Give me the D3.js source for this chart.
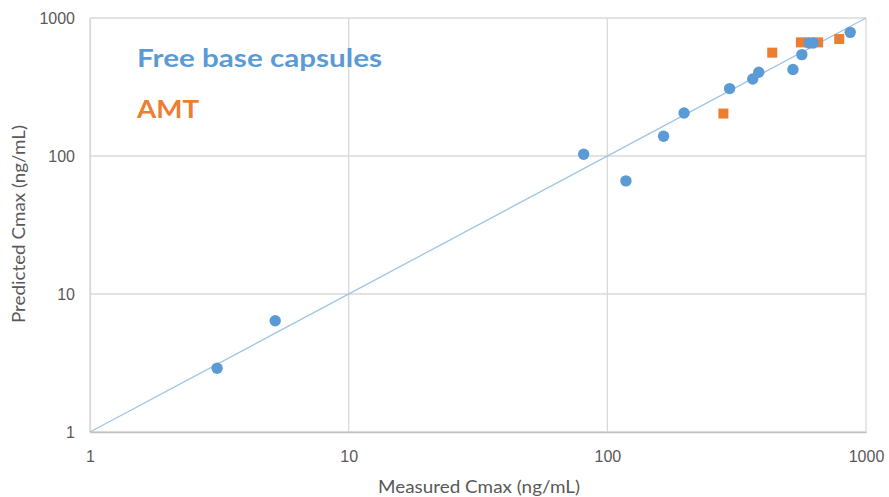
<!DOCTYPE html>
<html>
<head>
<meta charset="utf-8">
<script src="https://cdn.jsdelivr.net/npm/d3@7"></script>
<style>
  html, body { margin: 0; padding: 0; background: #fff; }
  svg { display: block; font-family: Lato, "Open Sans", sans-serif; }
</style>
</head>
<body>
<svg id="chart" width="889" height="497"></svg>
<script>
// Measured vs predicted Cmax (ng/mL)
const freeBaseMeasured  = [3.1, 5.2, 81, 118, 165, 198, 297, 365, 385, 522, 565, 603, 625, 869];
const freeBasePredicted = [2.9, 6.4, 103, 66, 139, 205, 308, 361, 404, 423, 543, 658, 658, 787];
const amtMeasured  = [281, 434, 560, 605, 653, 788];
const amtPredicted = [203, 561, 666, 666, 666, 704];
const tickValues = [1, 10, 100, 1000];
const tickLabels = ["1", "10", "100", "1000"];
const identityLine = [1, 1000];

const svg = d3.select("#chart");
const margin = { left: 90, right: 23, top: 18, bottom: 65 };
const W = 889, H = 497;

const x = d3.scaleLog().domain([1, 1000]).range([margin.left, W - margin.right]);
const y = d3.scaleLog().domain([1, 1000]).range([H - margin.bottom, margin.top]);

const gridColor = "#D9D9D9";
const textColor = "#595959";

// gridlines
svg.append("g").selectAll("line.vg")
  .data(tickValues).join("line")
  .attr("x1", d => x(d)).attr("x2", d => x(d))
  .attr("y1", y(1000)).attr("y2", y(1))
  .attr("stroke", gridColor).attr("stroke-width", 1.3);
svg.append("g").selectAll("line.hg")
  .data(tickValues).join("line")
  .attr("x1", x(1)).attr("x2", x(1000))
  .attr("y1", d => y(d)).attr("y2", d => y(d))
  .attr("stroke", gridColor).attr("stroke-width", 1.3);

// x axis
const xAxis = d3.axisBottom(x).tickValues(tickValues)
  .tickFormat((d, i) => tickLabels[i]).tickSize(0).tickPadding(19);
const gx = svg.append("g").attr("transform", `translate(0,${y(1)})`).call(xAxis);
gx.select(".domain").attr("stroke", "#BFBFBF").attr("stroke-width", 1.3);
gx.selectAll("text").attr("fill", textColor).attr("font-size", 16);

// y axis
const yAxis = d3.axisLeft(y).tickValues(tickValues)
  .tickFormat((d, i) => tickLabels[i]).tickSize(0).tickPadding(15);
const gy = svg.append("g").attr("transform", `translate(${x(1)},0)`).call(yAxis);
gy.select(".domain").attr("stroke", gridColor).attr("stroke-width", 1.3);
gy.selectAll("text").attr("fill", textColor).attr("font-size", 16);

// identity line
svg.append("line")
  .attr("x1", x(identityLine[0])).attr("y1", y(identityLine[0]))
  .attr("x2", x(identityLine[1])).attr("y2", y(identityLine[1]))
  .attr("stroke", "#9DC3E6").attr("stroke-width", 1.3);

// AMT squares
const sq = 10;
svg.append("g").selectAll("rect")
  .data(amtMeasured.map((m, i) => [m, amtPredicted[i]]))
  .join("rect")
  .attr("x", d => x(d[0]) - sq / 2).attr("y", d => y(d[1]) - sq / 2)
  .attr("width", sq).attr("height", sq)
  .attr("fill", "#ED7D31");

// free base circles
svg.append("g").selectAll("circle")
  .data(freeBaseMeasured.map((m, i) => [m, freeBasePredicted[i]]))
  .join("circle")
  .attr("cx", d => x(d[0])).attr("cy", d => y(d[1]))
  .attr("r", 5.7)
  .attr("fill", "#5B9BD5");

// series labels
svg.append("text").attr("x", 137).attr("y", 67)
  .attr("fill", "#5B9BD5").attr("font-size", 25).attr("font-weight", "bold")
  .attr("textLength", 245).attr("lengthAdjust", "spacingAndGlyphs")
  .text("Free base capsules");
svg.append("text").attr("x", 137).attr("y", 118)
  .attr("fill", "#ED7D31").attr("font-size", 25).attr("font-weight", "bold")
  .attr("textLength", 62).attr("lengthAdjust", "spacingAndGlyphs")
  .text("AMT");

// axis titles
svg.append("text").attr("x", 479).attr("y", 493)
  .attr("text-anchor", "middle").attr("fill", textColor).attr("font-size", 18)
  .attr("textLength", 202).attr("lengthAdjust", "spacingAndGlyphs")
  .text("Measured Cmax (ng/mL)");
svg.append("text")
  .attr("transform", "translate(25,224) rotate(-90)")
  .attr("text-anchor", "middle").attr("fill", textColor).attr("font-size", 18)
  .attr("textLength", 198).attr("lengthAdjust", "spacingAndGlyphs")
  .text("Predicted Cmax (ng/mL)");
</script>
</body>
</html>
